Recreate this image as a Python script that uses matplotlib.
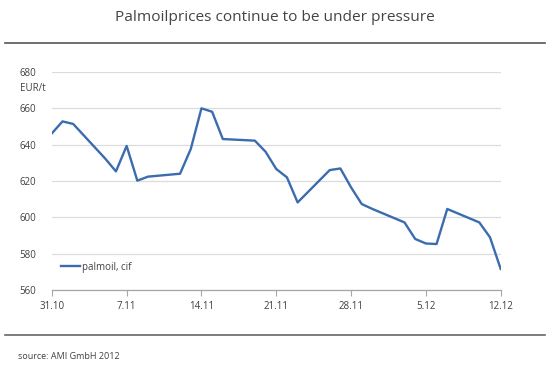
import matplotlib
matplotlib.use("Agg")
import matplotlib.pyplot as plt
import pandas as pd

plt.rcParams['font.family'] = ['Open Sans', 'DejaVu Sans']

dates = ["2012-10-31", "2012-11-01", "2012-11-02", "2012-11-05", "2012-11-06",
         "2012-11-07", "2012-11-08", "2012-11-09", "2012-11-12", "2012-11-13",
         "2012-11-14", "2012-11-15", "2012-11-16", "2012-11-19", "2012-11-20",
         "2012-11-21", "2012-11-22", "2012-11-23", "2012-11-26", "2012-11-27",
         "2012-11-28", "2012-11-29", "2012-11-30", "2012-12-03", "2012-12-04",
         "2012-12-05", "2012-12-06", "2012-12-07", "2012-12-10", "2012-12-11",
         "2012-12-12"]
palmoil = [646.2, 652.8, 651.4, 632.3, 625.3,
           639.3, 620.2, 622.4, 624.0, 637.6,
           660.0, 658.1, 643.1, 642.2, 636.1,
           626.6, 622.0, 608.2, 626.0, 626.9,
           616.5, 607.3, 604.6, 597.2, 588.1,
           585.6, 585.3, 604.6, 597.2, 589.0,
           571.6]
tick_dates = ["2012-10-31", "2012-11-07", "2012-11-14", "2012-11-21",
              "2012-11-28", "2012-12-05", "2012-12-12"]
tick_labels = ["31.10", "7.11", "14.11", "21.11", "28.11", "5.12", "12.12"]
y_ticks = [560, 580, 600, 620, 640, 660, 680]

title = "Palmoilprices continue to be under pressure"
unit = "EUR/t"
series_name = "palmoil, cif"
source = "source: AMI GmbH 2012"

x = pd.to_datetime(dates)
xt = pd.to_datetime(tick_dates)

fig = plt.figure(figsize=(5.49, 3.73), dpi=100)
ax = fig.add_axes([0.0944, 0.2225, 0.8176, 0.5845])

ax.plot(x, palmoil, color="#3b6cae", lw=1.7, label=series_name, solid_joinstyle='round')

ax.set_ylim(560, 680)
ax.set_xlim(xt[0], xt[-1])
ax.set_yticks(y_ticks)
ax.set_xticks(xt)
ax.set_xticklabels(tick_labels)
ax.grid(axis='y', color="#dcdcdc", lw=0.9)
ax.set_axisbelow(True)
for s in ["top", "right", "left"]:
    ax.spines[s].set_visible(False)
ax.spines["bottom"].set_color("#a6a6a6")
ax.spines["bottom"].set_linewidth(0.9)
ax.tick_params(axis='x', direction='out', length=4, color="#a6a6a6", width=0.8,
               labelsize=7, labelcolor="#404040", pad=4)
ax.tick_params(axis='y', length=0, labelsize=7, labelcolor="#404040", pad=11)

fig.text(0.037, 0.762, unit, fontsize=7, color="#404040", ha='left', va='center')

ax.legend(loc='lower left', bbox_to_anchor=(0.0, 0.04), frameon=False,
          fontsize=7, handlelength=2.0, handletextpad=0.2, labelcolor="#404040")

fig.text(0.5, 0.952, title, fontsize=11.1, color="#444444", ha='center', va='center')
fig.add_artist(plt.Line2D([0.009, 0.993], [0.885, 0.885], color="#555555", lw=1.2,
                          transform=fig.transFigure))
fig.add_artist(plt.Line2D([0.009, 0.993], [0.102, 0.102], color="#666666", lw=1.2,
                          transform=fig.transFigure))
fig.text(0.033, 0.045, source, fontsize=6.5, color="#404040", ha='left', va='center')

fig.savefig("out.png", dpi=100)
